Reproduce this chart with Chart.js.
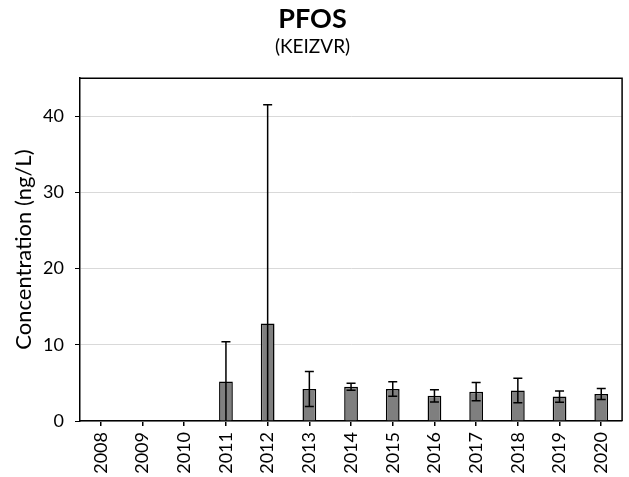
<!DOCTYPE html>
<html>
<head>
<meta charset="utf-8">
<script src="https://cdn.jsdelivr.net/npm/chart.js@4/dist/chart.umd.min.js"></script>
<style>
    html, body { margin: 0; padding: 0; background: #fff; }
    #wrap { width: 629px; height: 477px; }
</style>
</head>
<body>
<div id="wrap"><canvas id="chart"></canvas></div>
<script>
// data
const years = ['2008', '2009', '2010', '2011', '2012', '2013', '2014', '2015', '2016', '2017', '2018', '2019', '2020'];
const meanConc = [null, null, null, 5.2, 12.8, 4.2, 4.5, 4.2, 3.3, 3.85, 4.0, 3.2, 3.55];
const sdConc = [null, null, null, 5.2, 28.7, 2.3, 0.45, 0.95, 0.8, 1.2, 1.6, 0.75, 0.72];
const yTicks = [0, 10, 20, 30, 40];

const FONT = 'Lato, "Open Sans", sans-serif';

/**
 * Error bars (mean +/- sd), lower end clipped at zero
 */
const errorBars = {
    id: 'errorBars',
    afterDatasetsDraw(chart) {
        const { ctx, scales: { x, y } } = chart;
        ctx.save();
        ctx.strokeStyle = '#000';
        ctx.lineWidth = 1.5;
        meanConc.forEach((v, i) => {
            if (v === null) return;
            const cx = x.getPixelForValue(i);
            const lo = Math.max(v - sdConc[i], 0);
            const yTop = y.getPixelForValue(v + sdConc[i]);
            const yBot = y.getPixelForValue(lo);
            ctx.beginPath();
            ctx.moveTo(cx, yTop);
            ctx.lineTo(cx, yBot);
            ctx.moveTo(cx - 4.5, yTop);
            ctx.lineTo(cx + 4.5, yTop);
            if (lo > 0) {
                ctx.moveTo(cx - 4.5, yBot);
                ctx.lineTo(cx + 4.5, yBot);
            }
            ctx.stroke();
        });
        ctx.restore();
    }
};

/**
 * Top and right edges of the plot box
 */
const plotBox = {
    id: 'plotBox',
    afterDraw(chart) {
        const { ctx, chartArea: a } = chart;
        ctx.save();
        ctx.strokeStyle = '#000';
        ctx.lineWidth = 1.5;
        ctx.beginPath();
        ctx.moveTo(a.left, a.top);
        ctx.lineTo(a.right, a.top);
        ctx.lineTo(a.right, a.bottom);
        ctx.stroke();
        ctx.restore();
    }
};

new Chart(document.getElementById('chart'), {
    type: 'bar',
    data: {
        labels: years,
        datasets: [{
            label: 'PFOS',
            data: meanConc,
            backgroundColor: '#7f7f7f',
            borderColor: '#000',
            borderWidth: 1.5,
            barPercentage: 0.33,
            categoryPercentage: 1
        }]
    },
    options: {
        responsive: true,
        maintainAspectRatio: false,
        animation: false,
        layout: { padding: { left: 0, right: 4, top: 0, bottom: 0 } },
        plugins: {
            legend: { display: false },
            tooltip: { enabled: false },
            title: {
                display: true,
                text: 'PFOS',
                color: '#000',
                font: { family: FONT, size: 27, weight: 'bold' },
                padding: { top: 3, bottom: 0 }
            },
            subtitle: {
                display: true,
                text: '(KEIZVR)',
                color: '#000',
                font: { family: FONT, size: 19 },
                padding: { top: 0, bottom: 20 }
            }
        },
        scales: {
            x: {
                offset: true,
                grid: { display: true, drawOnChartArea: false, offset: false, tickLength: 5, tickColor: '#000', lineWidth: 1.5 },
                border: { display: true, color: '#000', width: 1.5 },
                ticks: {
                    color: '#000',
                    font: { family: FONT, size: 18 },
                    minRotation: 90,
                    maxRotation: 90,
                    padding: 6
                },
                afterFit(scale) { scale.height = 56; }
            },
            y: {
                min: 0,
                max: 45,
                afterBuildTicks(scale) {
                    scale.ticks = yTicks.map(v => ({ value: v }));
                },
                grid: { color: '#d9d9d9', lineWidth: 1, tickLength: 5, tickColor: '#000' },
                border: { display: true, color: '#000', width: 1.5 },
                ticks: {
                    color: '#000',
                    font: { family: FONT, size: 18 },
                    padding: 11
                },
                title: {
                    display: true,
                    text: 'Concentration (ng/L)',
                    color: '#000',
                    font: { family: FONT, size: 22 },
                    padding: { top: 11, bottom: 0 }
                },
                afterFit(scale) { scale.width = 80; }
            }
        }
    },
    plugins: [errorBars, plotBox]
});
</script>
</body>
</html>
